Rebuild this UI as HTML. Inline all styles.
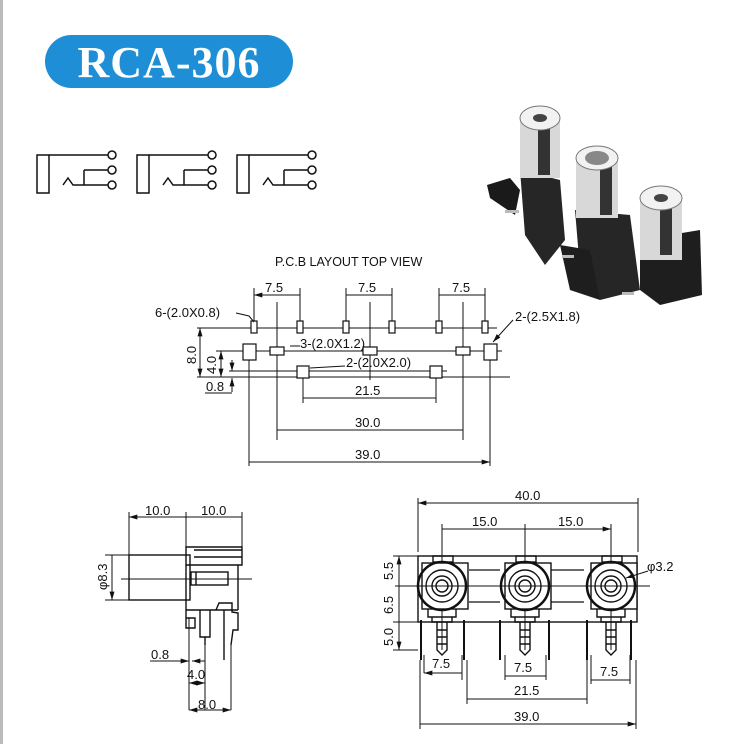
<!DOCTYPE html>
<html><head><meta charset="utf-8"><style>
html,body{margin:0;padding:0;background:#fff;width:735px;height:744px;overflow:hidden}
svg{display:block}
text{font-family:"Liberation Sans",Arial,sans-serif;font-size:13px;fill:#111}
</style></head><body>
<svg width="735" height="744" viewBox="0 0 735 744" xmlns="http://www.w3.org/2000/svg">
<defs>
<marker id="a" viewBox="0 0 10 6" refX="10" refY="3" markerWidth="9" markerHeight="5" orient="auto-start-reverse" markerUnits="userSpaceOnUse"><path d="M0,0L10,3L0,6z" fill="#111"/></marker>
</defs>
<rect x="0" y="0" width="3" height="744" fill="#bbb"/>
<rect x="45" y="35" width="248" height="53" rx="26.5" fill="#1e8fd6"/>
<text x="169" y="77" text-anchor="middle" style="font-family:'Liberation Serif',serif;font-size:44px;font-weight:bold;fill:#fff;letter-spacing:1px">RCA-306</text>

<g stroke="#111" stroke-width="1.5" fill="none">
<g id="s1">
<rect x="37" y="155" width="12" height="38"/>
<path d="M49 155H108M84 170H108M84 170V185H108M63 185L68 178L73 185H84"/>
<circle cx="112" cy="155" r="4" fill="#fff"/><circle cx="112" cy="170" r="4" fill="#fff"/><circle cx="112" cy="185" r="4" fill="#fff"/>
</g>
<use href="#s1" x="100"/><use href="#s1" x="200"/>
</g>

<!-- photo -->
<g>
<path d="M487 185L510 178 520 190 515 215 490 198Z" fill="#1a1a1a"/>
<path d="M520 170L560 180 565 240 545 265 525 235Z" fill="#262626"/>
<path d="M575 210L630 215 640 290 600 300 580 270Z" fill="#262626"/>
<path d="M560 245L590 250 600 300 570 290Z" fill="#1e1e1e"/>
<path d="M640 240L700 230 702 295 660 305 640 290Z" fill="#1e1e1e"/>
<rect x="520" y="118" width="40" height="60" fill="#d8d8d8"/><rect x="538" y="125" width="12" height="50" fill="#333"/>
<ellipse cx="540" cy="118" rx="20" ry="12" fill="#f2f2f2" stroke="#777"/><ellipse cx="540" cy="118" rx="7" ry="4" fill="#444"/>
<rect x="576" y="158" width="42" height="60" fill="#d8d8d8"/><rect x="600" y="165" width="12" height="50" fill="#333"/>
<ellipse cx="597" cy="158" rx="21" ry="12" fill="#f2f2f2" stroke="#777"/><ellipse cx="597" cy="158" rx="12" ry="7" fill="#888"/>
<rect x="640" y="198" width="42" height="62" fill="#d8d8d8"/><rect x="660" y="205" width="12" height="50" fill="#333"/>
<ellipse cx="661" cy="198" rx="21" ry="12" fill="#f2f2f2" stroke="#777"/><ellipse cx="661" cy="198" rx="7" ry="4" fill="#444"/>
<rect x="505" y="210" width="14" height="3" fill="#bbb"/><rect x="562" y="255" width="12" height="3" fill="#bbb"/><rect x="622" y="292" width="12" height="3" fill="#bbb"/>
</g>

<!-- PCB layout -->
<text x="275" y="266" style="font-size:12.5px">P.C.B LAYOUT  TOP VIEW</text>
<g stroke="#111" stroke-width="1" fill="none">
<path d="M197 328H497M216 351H502M229 371H447M197 377H510"/>
<path d="M254 288V322M300 288V322M346 288V322M392 288V322M439 288V322M485 288V322"/>
<path d="M277 302V440M370 302V380M463 302V440M249 352V466M490 352V466M303 372V403M436 372V403"/>
<path d="M254 295H300M346 295H392M439 295H485M303 398H436M277 430H463M249 462H490" marker-start="url(#a)" marker-end="url(#a)"/>
<path d="M200 328V377" marker-start="url(#a)" marker-end="url(#a)"/>
<path d="M221 351V377" marker-start="url(#a)" marker-end="url(#a)"/>
<path d="M232 360V371" marker-end="url(#a)"/><path d="M232 392V378" marker-end="url(#a)"/>
<path d="M205 393H232"/>
<g fill="#fff" stroke-width="1.2">
<rect x="251" y="321" width="6" height="12"/><rect x="297" y="321" width="6" height="12"/><rect x="343" y="321" width="6" height="12"/><rect x="389" y="321" width="6" height="12"/><rect x="436" y="321" width="6" height="12"/><rect x="482" y="321" width="6" height="12"/>
<rect x="243" y="344" width="13" height="16"/><rect x="484" y="344" width="13" height="16"/>
<rect x="270" y="347" width="14" height="8"/><rect x="363" y="347" width="14" height="8"/><rect x="456" y="347" width="14" height="8"/>
<rect x="297" y="366" width="12" height="12"/><rect x="430" y="366" width="12" height="12"/>
</g>
<path d="M236 313L249 316 254 322"/>
<path d="M290 346H300"/>
<path d="M310 368L345 366"/>
<path d="M513 320L493 342" marker-end="url(#a)"/>
</g>
<text x="265" y="292">7.5</text><text x="358" y="292">7.5</text><text x="452" y="292">7.5</text>
<text x="155" y="317">6-(2.0X0.8)</text>
<text x="515" y="321">2-(2.5X1.8)</text>
<text x="300" y="348">3-(2.0X1.2)</text>
<text x="346" y="367">2-(2.0X2.0)</text>
<text x="355" y="395">21.5</text><text x="355" y="427">30.0</text><text x="355" y="459">39.0</text>
<text x="206" y="391">0.8</text>
<text transform="translate(196,364) rotate(-90)">8.0</text>
<text transform="translate(216,374) rotate(-90)">4.0</text>

<!-- side view -->
<g stroke="#111" stroke-width="1" fill="none">
<path d="M129 512V555M186 512V547M242 512V547"/>
<path d="M129 517H186M186 517H242M112 555V600" marker-start="url(#a)" marker-end="url(#a)"/>
<path d="M105 555H129M105 600H129"/>
<rect x="129" y="555" width="61" height="45" stroke-width="1.4"/>
<path d="M121 579H252"/>
<g stroke-width="1.4">
<path d="M186 547H242V565H186ZM194 550H242V557H194"/>
<path d="M186 565V600M238 565V610"/>
<rect x="191" y="572" width="37" height="13"/><path d="M196 572V585"/>
<path d="M186 600V618H195V628H186Z"/>
<path d="M186 610H238"/>
<path d="M200 610V637H210V610"/><path d="M205 637V645"/>
<path d="M216 610L219 603H232V612L238 613V630L233 630 231 645"/>
<path d="M224 610V660"/>
</g>
<path d="M189 618V710M205 645V710M231 645V710"/>
<path d="M150 661H189" marker-end="url(#a)"/><path d="M205 661H192" marker-end="url(#a)"/>
<path d="M189 683H205" marker-start="url(#a)" marker-end="url(#a)"/>
<path d="M189 710H231" marker-start="url(#a)" marker-end="url(#a)"/>
</g>
<text x="145" y="515">10.0</text><text x="201" y="515">10.0</text>
<text transform="translate(107,590) rotate(-90)">φ8.3</text>
<text x="151" y="659">0.8</text><text x="187" y="679">4.0</text><text x="198" y="709">8.0</text>

<!-- front view -->
<g stroke="#111" stroke-width="1" fill="none">
<path d="M418 498V552M638 498V552M442 524V650M525 524V650M611 524V650"/>
<path d="M418 503H638M442 529H525M525 529H611" marker-start="url(#a)" marker-end="url(#a)"/>
<path d="M393 556H418M393 622H418M393 650H418"/>
<path d="M399 556V586M399 586V622M399 622V650" marker-start="url(#a)" marker-end="url(#a)"/>
<rect x="418" y="556" width="219" height="66" stroke-width="1.4"/>
<path d="M469 570H500M469 602H500M550 570H584M550 602H584" stroke-width="1.2"/>
<g id="jk" stroke-width="1.4">
<rect x="422" y="563" width="46" height="46" fill="#fff"/>
<rect x="433" y="556" width="20" height="6"/>
<circle cx="442" cy="586" r="24" stroke-width="2.5"/>
<circle cx="442" cy="586" r="16"/><circle cx="442" cy="586" r="10"/><circle cx="442" cy="586" r="6"/>
<path d="M428 609V617H456V609M432 617V622H452V617"/>
<path d="M437 622V650L442 655 447 650V622M437 630H447M437 637H447M437 644H447"/>
</g>
<use href="#jk" x="83"/><use href="#jk" x="169"/>
<path d="M395 586H650"/>
<path d="M421 620V660M464 620V660M500 620V660M549 620V660M587 620V660M631 620V660" stroke-width="2"/>
<path d="M424 655V673M462 655V680M505 655V680M546 655V680M591 655V684M630 655V684M467 660V704M587 660V704M420 660V729M636 660V729"/>
<path d="M424 673H462M505 676H546M591 680H630M467 699H587M420 724H636" marker-start="url(#a)" marker-end="url(#a)"/>
<path d="M648 571L626 578" marker-end="url(#a)"/>
</g>
<text x="515" y="500">40.0</text><text x="472" y="526">15.0</text><text x="558" y="526">15.0</text>
<text x="647" y="571">φ3.2</text>
<text transform="translate(393,580) rotate(-90)">5.5</text>
<text transform="translate(393,614) rotate(-90)">6.5</text>
<text transform="translate(393,646) rotate(-90)">5.0</text>
<text x="432" y="668">7.5</text><text x="514" y="672">7.5</text><text x="600" y="676">7.5</text>
<text x="514" y="695">21.5</text><text x="514" y="721">39.0</text>
</svg>
</body></html>
